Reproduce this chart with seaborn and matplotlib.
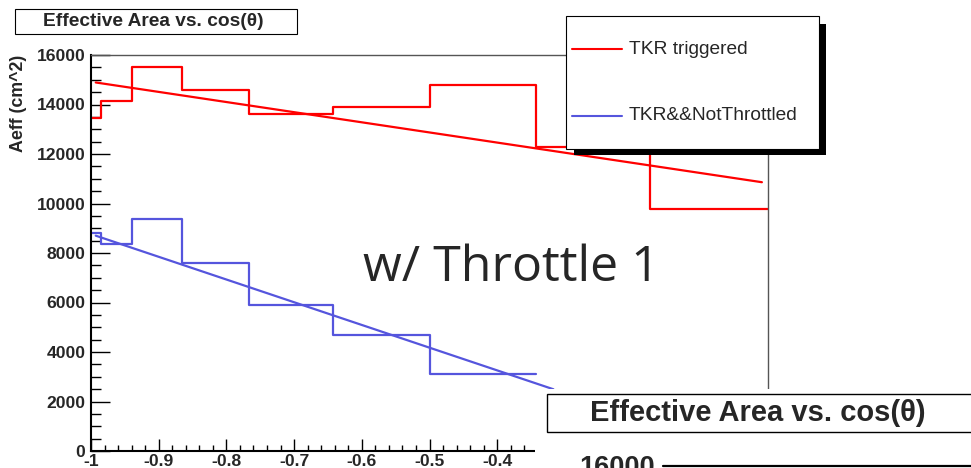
import numpy as np
import pandas as pd
import matplotlib
matplotlib.use("Agg")
import matplotlib.pyplot as plt
import seaborn as sns
from matplotlib.patches import Rectangle
from matplotlib.lines import Line2D

# ---------------- data ----------------
bin_edges = [-1.0, -0.985, -0.940, -0.866, -0.766, -0.643, -0.500, -0.342, -0.174, 0.0]
tkr_triggered = [13450, 14140, 15500, 14590, 13620, 13890, 14770, 12280, 9780]
tkr_not_throttled = [8820, 8350, 9360, 7580, 5910, 4700, 3100]  # remaining bins hidden by overlay
fit_x_red = [-0.993, -0.009]
fit_y_red = [14890, 10860]
fit_x_blue = [-0.993, -0.317]
fit_y_blue = [8700, 2495]
series_labels = ["TKR triggered", "TKR&&NotThrottled"]
title = "Effective Area vs. cos(\u03b8)"
ylabel = "Aeff (cm^2)"
annotation = "w/ Throttle 1"
x_ticks = [-1, -0.9, -0.8, -0.7, -0.6, -0.5, -0.4, -0.3, -0.2, -0.1, 0]
# labels from -0.3 on lie under the overlaid panel and are not visible
x_ticklabels = ["-1", "-0.9", "-0.8", "-0.7", "-0.6", "-0.5", "-0.4", "", "", "", ""]
y_ticks = [0, 2000, 4000, 6000, 8000, 10000, 12000, 14000, 16000]
overlay_tick_label = "16000"

RED = "#ff0000"
BLUE = "#5555dd"

W, H = 971, 468
def fx(px): return px / W
def fy(py): return 1 - py / H

sns.set_style("white")
plt.rcParams["font.family"] = ["Liberation Sans", "DejaVu Sans"]

fig = plt.figure(figsize=(W / 100, H / 100), dpi=100)
ax = fig.add_axes([fx(91), fy(451), (768 - 91) / W, (451 - 55) / H])

nb = len(tkr_not_throttled)
centers_r = [(a + b) / 2 for a, b in zip(bin_edges[:-1], bin_edges[1:])]
centers_b = centers_r[:nb]

df_r = pd.DataFrame({"x": centers_r, "w": tkr_triggered})
df_b = pd.DataFrame({"x": centers_b, "w": tkr_not_throttled})

sns.histplot(data=df_r, x="x", weights="w", bins=list(bin_edges), element="step", fill=False,
             color=RED, linewidth=1.6, ax=ax)
sns.histplot(data=df_b, x="x", weights="w", bins=list(bin_edges[:nb + 1]), element="step", fill=False,
             color=BLUE, linewidth=1.6, ax=ax)
sns.lineplot(x=fit_x_red, y=fit_y_red, color=RED, linewidth=1.6, ax=ax)
sns.lineplot(x=fit_x_blue, y=fit_y_blue, color=BLUE, linewidth=1.6, ax=ax)

ax.set_xlim(-1, 0)
ax.set_ylim(0, 16000)
ax.set_xlabel("")
ax.set_ylabel("")
ax.set_xticks(x_ticks)
ax.set_xticklabels(x_ticklabels)
ax.set_yticks(y_ticks)
ax.set_yticklabels([str(v) for v in y_ticks])
ax.xaxis.set_minor_locator(matplotlib.ticker.MultipleLocator(0.02))
ax.yaxis.set_minor_locator(matplotlib.ticker.MultipleLocator(500))
ax.tick_params(axis="both", which="both", direction="in", top=False, right=False,
               bottom=True, left=True, color="black")
ax.tick_params(axis="x", which="major", length=8.6, width=1.0, pad=2.5)
ax.tick_params(axis="x", which="minor", length=4.3, width=1.0)
ax.tick_params(axis="y", which="major", length=13.7, width=1.0, pad=4)
ax.tick_params(axis="y", which="minor", length=6.9, width=1.0)
for lab in ax.get_xticklabels() + ax.get_yticklabels():
    lab.set_fontweight("bold")
    lab.set_fontsize(12.6)
for s in ["left", "bottom"]:
    ax.spines[s].set_color("black")
    ax.spines[s].set_linewidth(1.5)
for s in ["top", "right"]:
    ax.spines[s].set_color("#555555")
    ax.spines[s].set_linewidth(1.0)
ax.set_facecolor("white")

# y label (ROOT style, aligned to top)
fig.text(fx(18.5), fy(55), ylabel, rotation=90, ha="center", va="top",
         fontsize=12.8, fontweight="bold")

# title box
fig.add_artist(Rectangle((fx(14.5), fy(33.5)), (296.5 - 14.5) / W, (33.5 - 9.5) / H,
                         transform=fig.transFigure, facecolor="white", edgecolor="black", linewidth=0.8))
fig.text(fx(153), fy(21.5), title, ha="center", va="center", fontsize=13.8, fontweight="bold")

# annotation
fig.text(fx(511), fy(268), annotation, ha="center", va="center", fontsize=36,
         family=["Open Sans", "DejaVu Sans"])

# legend with hard black shadow
fig.add_artist(Rectangle((fx(574), fy(155)), (826 - 574) / W, (155 - 24) / H,
                         transform=fig.transFigure, facecolor="black", edgecolor="black", linewidth=0))
fig.add_artist(Rectangle((fx(565.5), fy(149)), (819 - 565.5) / W, (149 - 15.5) / H,
                         transform=fig.transFigure, facecolor="white", edgecolor="black", linewidth=0.8))
for lab, col, py in zip(series_labels, [RED, BLUE], [49, 116]):
    fig.add_artist(Line2D([fx(572), fx(622)], [fy(py), fy(py)], transform=fig.transFigure,
                          color=col, linewidth=1.5))
    fig.text(fx(629), fy(py), lab, ha="left", va="center", fontsize=13.8)

# overlaid second panel (partially visible)
fig.add_artist(Rectangle((fx(535), 0), (W - 535) / W, (H - 389) / H,
                         transform=fig.transFigure, facecolor="white", edgecolor="none"))
fig.add_artist(Rectangle((fx(547), fy(432)), (W + 10 - 547) / W, (432 - 394) / H,
                         transform=fig.transFigure, facecolor="white", edgecolor="black", linewidth=1.0,
                         clip_on=False))
fig.text(fx(758), fy(413), title, ha="center", va="center", fontsize=21, fontweight="bold")
fig.text(fx(655), fy(455), overlay_tick_label, ha="right", va="top", fontsize=19.5, fontweight="bold")
fig.add_artist(Line2D([fx(663), 1], [fy(466), fy(466)], transform=fig.transFigure,
                      color="black", linewidth=1.6))

fig.savefig("out.png", dpi=100, facecolor="white")
